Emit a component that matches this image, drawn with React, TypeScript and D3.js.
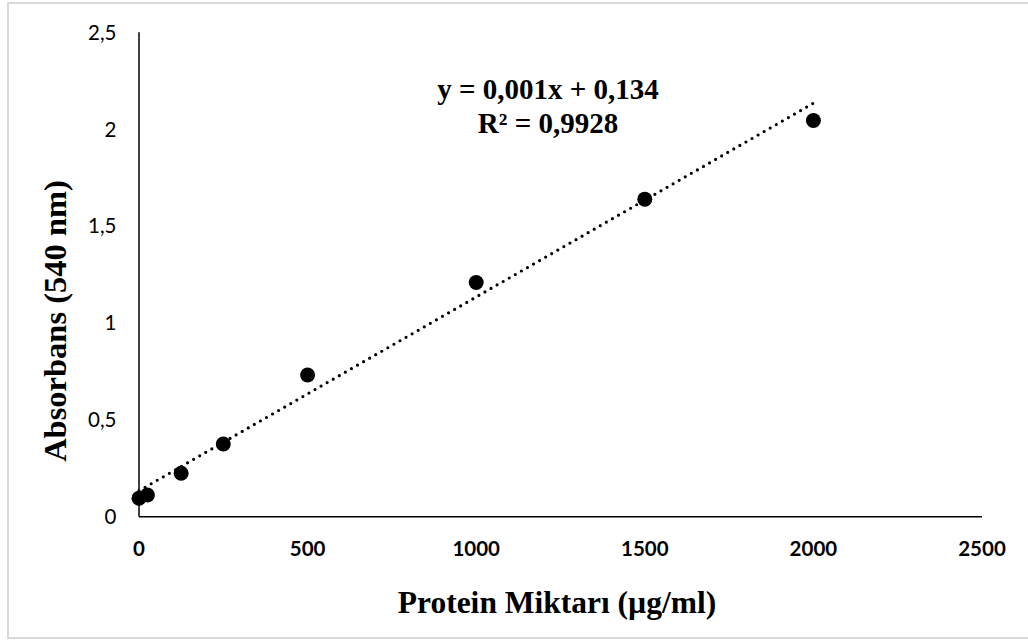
import React from "react";
import * as d3 from "d3";

// Protein standard curve (Biuret, 540 nm)
const proteinAmounts = [0, 25, 125, 250, 500, 1000, 1500, 2000];
const absorbances = [0.095, 0.112, 0.224, 0.375, 0.731, 1.209, 1.639, 2.045];
const xTicks = [0, 500, 1000, 1500, 2000, 2500];
const yTicks = [0, 0.5, 1, 1.5, 2, 2.5];
const trendSlope = 0.001;
const trendIntercept = 0.134;
const trendRange = [0, 2000];
const equationLines = ["y = 0,001x + 0,134", "R² = 0,9928"];
const xTitle = "Protein Miktarı (µg/ml)";
const yTitle = "Absorbans (540 nm)";

const W = 1028;
const H = 641;

export default function App() {
  const x = d3.scaleLinear().domain([0, 2500]).range([139, 982]);
  const y = d3.scaleLinear().domain([0, 2.5]).range([516.7, 32.3]);
  const fmt = (v: number) => String(v).replace(".", ",");

  const trend = d3
    .line<number>()
    .x((d) => x(d))
    .y((d) => y(trendSlope * d + trendIntercept))(trendRange);

  const tickFont = "Lato, 'Open Sans', sans-serif";
  const titleFont = "'Liberation Serif', 'Times New Roman', serif";

  return (
    <svg
      width={W}
      height={H}
      style={{ position: "absolute", left: 0, top: 0, background: "#fff" }}
    >
      <rect x={8} y={3} width={1040} height={635} fill="#fff" stroke="#d9d9d9" strokeWidth={2} />

      {/* axes */}
      <line x1={x(0)} x2={x(0)} y1={y(0)} y2={y(2.5)} stroke="#000" strokeWidth={1.5} />
      <line x1={x(0)} x2={x(2500)} y1={y(0)} y2={y(0)} stroke="#000" strokeWidth={1.5} />

      {yTicks.map((t) => (
        <text
          key={"y" + t}
          x={116.5}
          y={y(t)}
          dy="0.36em"
          textAnchor="end"
          fontFamily={tickFont}
          fontSize={20.5}
          fill="#000"
        >
          {fmt(t)}
        </text>
      ))}
      {xTicks.map((t) => (
        <text
          key={"x" + t}
          x={x(t)}
          y={556}
          textAnchor="middle"
          fontFamily={tickFont}
          fontWeight="bold"
          fontSize={20.5}
          fill="#000"
        >
          {t}
        </text>
      ))}

      {/* linear trendline */}
      <path
        d={trend ?? ""}
        fill="none"
        stroke="#000"
        strokeWidth={3.2}
        strokeLinecap="round"
        strokeDasharray="0 7"
      />

      {/* data points */}
      {proteinAmounts.map((p, i) => (
        <circle key={p} cx={x(p)} cy={y(absorbances[i])} r={7.5} fill="#000" />
      ))}

      {/* regression equation */}
      <text
        textAnchor="middle"
        fontFamily={titleFont}
        fontWeight="bold"
        fontSize={29}
        fill="#000"
      >
        <tspan x={548} y={99}>{equationLines[0]}</tspan>
        <tspan x={548} y={133}>{equationLines[1]}</tspan>
      </text>

      {/* axis titles */}
      <text
        x={557}
        y={613}
        textAnchor="middle"
        fontFamily={titleFont}
        fontWeight="bold"
        fontSize={31.5}
        fill="#000"
      >
        {xTitle}
      </text>
      <text
        transform="translate(66,321) rotate(-90)"
        textAnchor="middle"
        fontFamily={titleFont}
        fontWeight="bold"
        fontSize={32.5}
        fill="#000"
      >
        {yTitle}
      </text>
    </svg>
  );
}
